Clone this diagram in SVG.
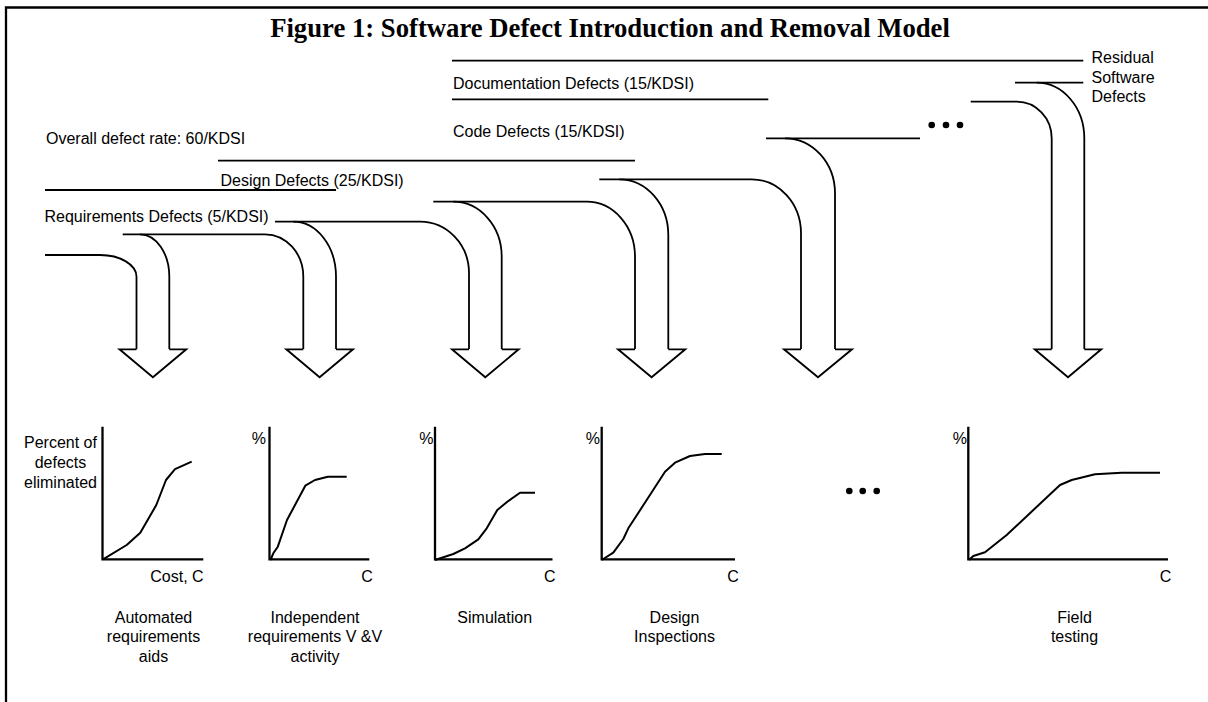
<svg xmlns="http://www.w3.org/2000/svg" width="1208" height="702" viewBox="0 0 1208 702">
<style>
  .ln{fill:none;stroke:#000;stroke-width:1.8}
  .ax{fill:none;stroke:#000;stroke-width:2.3}
  .cv{fill:none;stroke:#000;stroke-width:2;stroke-linejoin:round}
  .hd{fill:#fff;stroke:#000;stroke-width:1.8;stroke-linejoin:miter}
  .t{font-family:"Liberation Sans",Arial,sans-serif;font-size:16px;fill:#000}
  .c{text-anchor:middle}
  .title{font-family:"Liberation Serif","Times New Roman",serif;font-weight:bold;font-size:26.7px;text-anchor:middle;fill:#000}
</style>
<rect width="1208" height="702" fill="#fff"/>
<path d="M6,702 V7.5 H1208" fill="none" stroke="#000" stroke-width="2.3"/>
<text class="title" x="610" y="36.5">Figure 1: Software Defect Introduction and Removal Model</text>

<g id="defect-labels">
  <text class="t" x="46" y="144">Overall defect rate: 60/KDSI</text>
  <text class="t" x="220.5" y="185.5">Design Defects (25/KDSI)</text>
  <text class="t" x="44.5" y="222">Requirements Defects (5/KDSI)</text>
  <text class="t" x="453" y="89">Documentation Defects (15/KDSI)</text>
  <text class="t" x="453" y="137.3">Code Defects (15/KDSI)</text>
  <text class="t" x="1091.5" y="62.5">Residual</text>
  <text class="t" x="1091.5" y="82.5">Software</text>
  <text class="t" x="1091.5" y="102.3">Defects</text>
</g>

<g id="connectors">
  <!-- defect level lines -->
  <line class="ln" x1="452" y1="60.7" x2="1083.3" y2="60.7"/>
  <line class="ln" x1="452" y1="99.3" x2="768.3" y2="99.3"/>
  <line class="ln" x1="218" y1="160.7" x2="635" y2="160.7"/>
  <line class="ln" x1="45" y1="190" x2="336" y2="190"/>
  <!-- arrow 1 -->
  <g id="arrow-1">
    <path class="ln" d="M45,255 H100 A36.5,21.7 0 0 1 136.5,276.7 V349.3"/>
    <path class="ln" d="M140,234.3 A29.3,42.4 0 0 1 169.3,276.7 V349.3"/>
    <polyline class="hd" points="136.5,349.3 119.5,349.3 152.9,377.3 186.3,349.3 169.3,349.3"/>
  </g>
  <!-- arrow 2 -->
  <g id="arrow-2">
    <path class="ln" d="M122.7,234.3 H265 A38.3,42.4 0 0 1 303.3,276.7 V349.3"/>
    <path class="ln" d="M293.3,221.7 A42.7,55 0 0 1 336,276.7 V349.3"/>
    <polyline class="hd" points="303.3,349.3 286.3,349.3 319.6,377.3 353,349.3 336,349.3"/>
  </g>
  <!-- arrow 3 -->
  <g id="arrow-3">
    <path class="ln" d="M275,221.7 H420 A49,51.3 0 0 1 469,273 V349.3"/>
    <path class="ln" d="M453.3,201.7 A48.4,55 0 0 1 501.7,256.7 V349.3"/>
    <polyline class="hd" points="469,349.3 452,349.3 485.3,377.3 518.7,349.3 501.7,349.3"/>
  </g>
  <!-- arrow 4 -->
  <g id="arrow-4">
    <path class="ln" d="M433.3,201.7 H586.7 A48.3,55 0 0 1 635,256.7 V349.3"/>
    <path class="ln" d="M619.3,179.3 A49,55.7 0 0 1 668.3,235 V349.3"/>
    <polyline class="hd" points="635,349.3 618,349.3 651.6,377.3 685.3,349.3 668.3,349.3"/>
  </g>
  <!-- arrow 5 -->
  <g id="arrow-5">
    <path class="ln" d="M599.3,179.3 H751.7 A49.3,54 0 0 1 801,233.3 V349.3"/>
    <line class="ln" x1="766" y1="138.3" x2="920" y2="138.3"/>
    <path class="ln" d="M785,138.3 A50,55 0 0 1 835,193.3 V349.3"/>
    <polyline class="hd" points="801,349.3 784,349.3 818,377.3 852,349.3 835,349.3"/>
  </g>
  <!-- arrow 6 -->
  <g id="arrow-6">
    <path class="ln" d="M970.7,101.7 H1016.7 A35,36.6 0 0 1 1051.7,138.3 V349.3"/>
    <line class="ln" x1="1015" y1="82.7" x2="1083.3" y2="82.7"/>
    <path class="ln" d="M1036.7,82.7 A47.6,55.6 0 0 1 1084.3,138.3 V349.3"/>
    <polyline class="hd" points="1051.7,349.3 1034.7,349.3 1068,377.3 1101.3,349.3 1084.3,349.3"/>
  </g>
  <g id="ellipsis-top">
    <circle cx="931.7" cy="125" r="3.3"/>
    <circle cx="946" cy="125" r="3.3"/>
    <circle cx="960" cy="125" r="3.3"/>
  </g>
</g>

<g id="chart-automated-requirements-aids">
  <path class="ax" d="M102.5,426.7 V559.3 H203.3"/>
  <polyline class="cv" points="103,559.3 126.7,545 140.3,532.8 156.3,505 166,480 175,469.2 191.7,461.7"/>
  <text class="t c" x="60.5" y="448.3">Percent of</text>
  <text class="t c" x="60.5" y="468.3">defects</text>
  <text class="t c" x="60.5" y="488.3">eliminated</text>
  <text class="t" x="150.3" y="581.7">Cost, C</text>
  <text class="t c" x="153.5" y="622.7">Automated</text>
  <text class="t c" x="153.5" y="642.4">requirements</text>
  <text class="t c" x="153.5" y="662">aids</text>
</g>

<g id="chart-independent-vv">
  <path class="ax" d="M269.5,426.7 V559.3 H369.3"/>
  <polyline class="cv" points="270.5,560 273.3,553.3 277.8,546.7 287,520 305.3,485.7 315,480 327.8,476.7 346.7,476.7"/>
  <text class="t" x="251.7" y="444">%</text>
  <text class="t" x="361.3" y="581.7">C</text>
  <text class="t c" x="315" y="622.7">Independent</text>
  <text class="t c" x="315" y="642.4">requirements V &amp;V</text>
  <text class="t c" x="315" y="662">activity</text>
</g>

<g id="chart-simulation">
  <path class="ax" d="M435,426.7 V559.3 H552.5"/>
  <polyline class="cv" points="435,560 453.3,554 465,548.3 478.3,539.3 486.7,528.3 497.3,510 507.3,501.7 520,492.7 535,492.7"/>
  <text class="t" x="419.3" y="444">%</text>
  <text class="t" x="544" y="581.7">C</text>
  <text class="t c" x="494.7" y="622.7">Simulation</text>
</g>

<g id="chart-design-inspections">
  <path class="ax" d="M601.7,426.7 V559.3 H735"/>
  <polyline class="cv" points="601.7,560 613.3,552.7 623.3,539 628.3,528.3 646.7,500 665,471.7 675,462.7 690,456 705,454 721.7,454"/>
  <text class="t" x="585.7" y="444">%</text>
  <text class="t" x="727.3" y="581.7">C</text>
  <text class="t c" x="674.5" y="622.7">Design</text>
  <text class="t c" x="674.5" y="642.4">Inspections</text>
</g>

<g id="ellipsis-bottom">
  <circle cx="849.3" cy="491" r="3.3"/>
  <circle cx="862.7" cy="491" r="3.3"/>
  <circle cx="876.7" cy="491" r="3.3"/>
</g>

<g id="chart-field-testing">
  <path class="ax" d="M968.3,426.7 V559.3 H1168"/>
  <polyline class="cv" points="969,560 973.3,556 985,552.3 1006.7,535 1060,485 1071.7,480 1095,474.3 1121.7,472.7 1160,472.7"/>
  <text class="t" x="952.7" y="444">%</text>
  <text class="t" x="1159.7" y="581.7">C</text>
  <text class="t c" x="1074.5" y="622.7">Field</text>
  <text class="t c" x="1074.5" y="642.4">testing</text>
</g>
</svg>
